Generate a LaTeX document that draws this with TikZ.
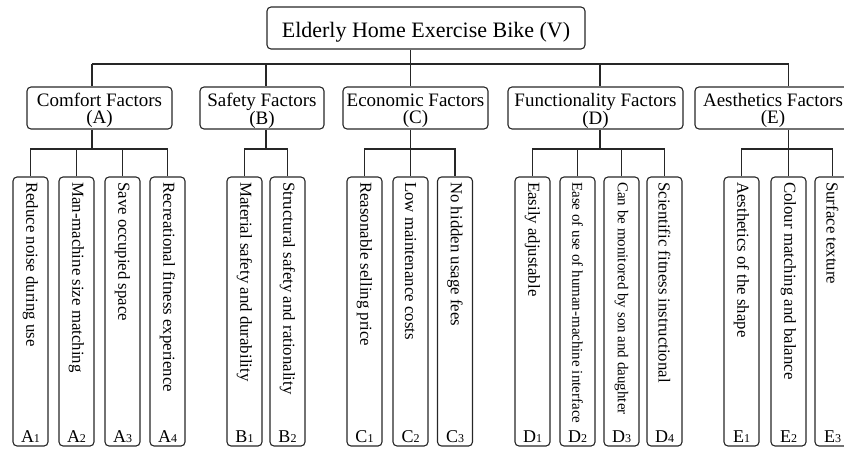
\documentclass[tikz,border=0pt]{standalone}
\usepackage{fontspec}
\setmainfont{Liberation Serif}
\begin{document}
\begin{tikzpicture}[x=1pt,y=-1pt,
  box/.style={draw=black!85, line width=1.1pt, rounded corners=4pt, inner sep=0pt},
  rootbox/.style={box, minimum width=318pt, minimum height=42pt, text height=20pt, text depth=2pt, font=\fontsize{22}{24}\selectfont},
  catbox/.style={box, minimum height=42pt, align=center, font=\fontsize{19}{17}\selectfont},
  leafbox/.style={box, minimum width=35pt, minimum height=269pt},
  leaftext/.style={rotate=-90, anchor=west, inner sep=0pt},
  lbl/.style={anchor=base, inner sep=0pt, font=\fontsize{18}{18}\selectfont},
  conn/.style={draw=black!85, line width=1.1pt}]
\useasboundingbox (0,0) rectangle (844,448);
\clip (0,0) rectangle (844,448);

% root
\node[rootbox] (V) at (426,28) {Elderly Home Exercise Bike (V)};

% categories
\newcommand{\tallstrut}{\rule{0pt}{19pt}}
\node[catbox, minimum width=145pt] (A) at (99.5,108) {\tallstrut Comfort Factors\\(A)};
\node[catbox, minimum width=124pt] (B) at (262,108) {\tallstrut Safety Factors\\(B)};
\node[catbox, minimum width=145pt] (C) at (415.5,108) {\tallstrut Economic Factors\\(C)};
\node[catbox, minimum width=175pt] (D) at (595.5,108) {\tallstrut Functionality Factors\\(D)};
\node[catbox, minimum width=156pt] (E) at (773,108) {\tallstrut Aesthetics Factors\\(E)};

% bus coordinates
\coordinate (tA) at (92,64);
\coordinate (tB) at (266,64);
\coordinate (tC) at (410.5,64);
\coordinate (tD) at (600,64);
\coordinate (tE) at (788.5,64);
\coordinate (bA) at (92,149);
\coordinate (bB) at (266,149);
\coordinate (bC) at (410.5,149);
\coordinate (bD) at (600,149);
\coordinate (bE) at (788.5,149);

% leaves
\foreach \n/\x/\lab/\sub/\fs/\t in {
  A1/30.5/A/1/16.8/Reduce noise during use,
  A2/76.5/A/2/16.8/Man-machine size matching,
  A3/122.5/A/3/16.8/Save occupied space,
  A4/167.5/A/4/16.8/Recreational fitness experience,
  B1/244.5/B/1/16.8/Material safety and durability,
  B2/287.5/B/2/16.8/Structural safety and rationality,
  C1/364.5/C/1/16.8/Reasonable selling price,
  C2/410.5/C/2/16.8/Low maintenance costs,
  C3/455/C/3/16.8/No hidden usage fees,
  D1/532.5/D/1/16.8/Easily adjustable,
  D2/577.5/D/2/15/Ease of use of human-machine interface,
  D3/621.5/D/3/15/Can be monitored by son and daughter,
  D4/664.5/D/4/16.8/Scientific fitness instructional,
  E1/741.5/E/1/16.8/Aesthetics of the shape,
  E2/788.5/E/2/16.8/Colour matching and balance,
  E3/832.5/E/3/16.8/Surface texture}
{
  \node[leafbox] (\n) at (\x,311.5) {};
  \node[leaftext, font=\fontsize{\fs}{18}\selectfont] (\n t) at (\x,182) {\t};
  \node[lbl] (\n l) at (\x,442) {\lab{\fontsize{12}{12}\selectfont\sub}};
}

% top connectors
\draw[conn] (V.south -| tC) -- (tC);
\draw[conn] (tA) -- (tE);
\foreach \c in {A,B,C,D,E}{
  \draw[conn] (t\c) -- (\c.north -| t\c);
  \draw[conn] (\c.south -| b\c) -- (b\c);
}

% lower buses
\draw[conn] (A1.north) -- (A1.north |- bA) -- (A4.north |- bA) -- (A4.north);
\draw[conn] (A2.north) -- (A2.north |- bA);
\draw[conn] (A3.north) -- (A3.north |- bA);
\draw[conn] (B1.north) -- (B1.north |- bB) -- (B2.north |- bB) -- (B2.north);
\draw[conn] (C1.north) -- (C1.north |- bC) -- (C3.north |- bC) -- (C3.north);
\draw[conn] (C2.north) -- (C2.north |- bC);
\draw[conn] (D1.north) -- (D1.north |- bD) -- (D4.north |- bD) -- (D4.north);
\draw[conn] (D2.north) -- (D2.north |- bD);
\draw[conn] (D3.north) -- (D3.north |- bD);
\draw[conn] (E1.north) -- (E1.north |- bE) -- (E3.north |- bE) -- (E3.north);
\draw[conn] (E2.north) -- (E2.north |- bE);
\end{tikzpicture}
\end{document}
